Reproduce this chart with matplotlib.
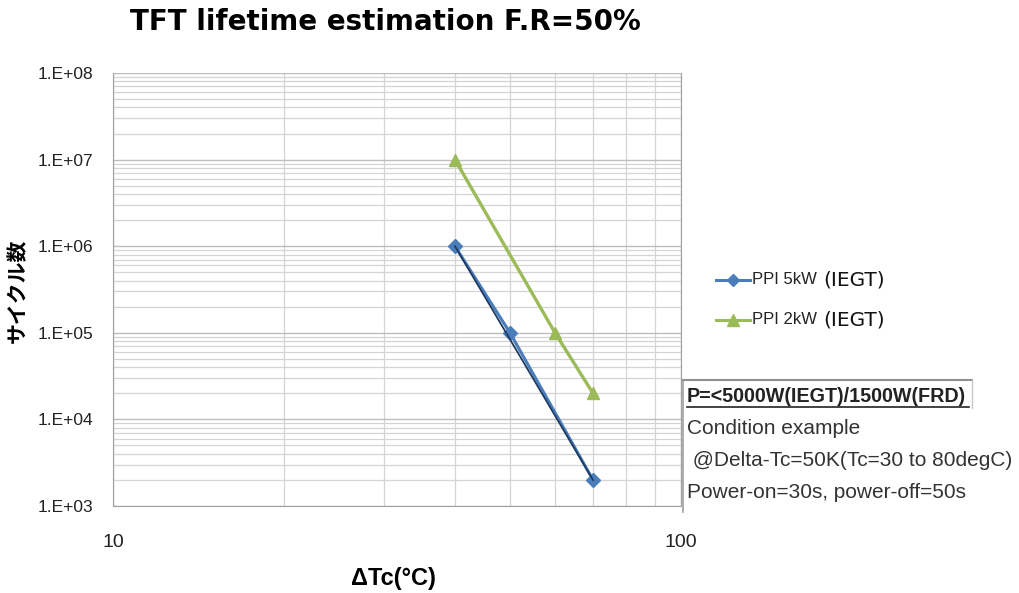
import matplotlib
matplotlib.use("Agg")
import matplotlib.pyplot as plt
from matplotlib.ticker import LogLocator, FixedLocator, NullFormatter, FixedFormatter
import numpy as np

plt.rcParams['font.family'] = ['Liberation Sans', 'Noto Sans CJK JP', 'DejaVu Sans']

x_5kw = [40, 50, 70]
y_5kw = [1e6, 1e5, 2e3]
x_2kw = [40, 60, 70]
y_2kw = [1e7, 1e5, 2e4]
label_5kw = "PPI 5kW"
label_2kw = "PPI 2kW"
y_ticks = [1e3, 1e4, 1e5, 1e6, 1e7, 1e8]
y_ticklabels = ["1.E+03", "1.E+04", "1.E+05", "1.E+06", "1.E+07", "1.E+08"]
x_ticks = [10, 100]
x_ticklabels = ["10", "100"]

fig = plt.figure(figsize=(10.19, 5.93), dpi=100)
ax = fig.add_axes([113/1019, 1-506/593, (681-113)/1019, (506-73)/593])
ax.set_xscale('log')
ax.set_yscale('log')
ax.set_xlim(10, 100)
ax.set_ylim(1e3, 1e8)

ax.yaxis.set_major_locator(FixedLocator(y_ticks))
ax.yaxis.set_major_formatter(FixedFormatter(y_ticklabels))
ax.yaxis.set_minor_locator(LogLocator(base=10, subs=np.arange(2, 10)))
ax.yaxis.set_minor_formatter(NullFormatter())
ax.xaxis.set_major_locator(FixedLocator(x_ticks))
ax.xaxis.set_major_formatter(FixedFormatter(x_ticklabels))
ax.xaxis.set_minor_locator(LogLocator(base=10, subs=np.arange(2, 10)))
ax.xaxis.set_minor_formatter(NullFormatter())

ax.grid(True, which='major', color='#bdbdbd', linewidth=1.0)
ax.grid(True, which='minor', color='#d4d4d4', linewidth=0.9)
ax.set_axisbelow(True)
ax.spines['top'].set_visible(False)
ax.spines['left'].set_color('#a0a0a0')
ax.spines['bottom'].set_color('#a0a0a0')
ax.spines['right'].set_color('#a0a0a0')
ax.tick_params(axis='both', which='both', length=0, colors='#222222')
ax.tick_params(axis='y', labelsize=12.5, pad=14)
ax.tick_params(axis='x', labelsize=14, pad=20)

l1, = ax.plot(x_5kw, y_5kw, color='#4a7ebb', linewidth=2.2, marker='D', markersize=7,
              markerfacecolor='#4a7ebb', markeredgecolor='#4a7ebb', zorder=3)
ax.plot([x_5kw[0], x_5kw[-1]], [y_5kw[0], y_5kw[-1]], color='#1f3b63', linewidth=1.3, zorder=4)
l2, = ax.plot(x_2kw, y_2kw, color='#9bbb59', linewidth=2.4, marker='^', markersize=9,
              markerfacecolor='#9bbb59', markeredgecolor='#9bbb59', zorder=3)

fig.text(385/1019, 1-22/593, "TFT lifetime estimation F.R=50%", ha='center', va='center',
         fontsize=20, fontweight='bold', family=['DejaVu Sans'])
fig.text(18/1019, 1-291/593, "サイクル数", ha='center', va='center', rotation=90,
         fontsize=15, fontweight='bold', family=['Noto Sans CJK JP'])
fig.text(393/1019, 1-578/593, "ΔTc(°C)", ha='center', va='center',
         fontsize=17, fontweight='bold', family=['Liberation Sans', 'DejaVu Sans'])

# legend
for yy, ln, lab in [(280, l1, label_5kw), (320, l2, label_2kw)]:
    fig.lines.append(plt.Line2D([716/1019, 750/1019], [1-yy/593, 1-yy/593], transform=fig.transFigure,
                                color=ln.get_color(), linewidth=2.2))
    fig.lines.append(plt.Line2D([733/1019], [1-yy/593], transform=fig.transFigure,
                                color=ln.get_color(), marker=ln.get_marker(),
                                markersize=6 if ln.get_marker() == 'D' else 8, linestyle='none'))
    fig.text(752/1019, 1-yy/593, lab, ha='left', va='center', fontsize=12, color='#222222')
    fig.text(823/1019, 1-yy/593, "(IEGT)", ha='left', va='center', fontsize=14.5, color='#111111',
             family=['DejaVu Sans'])

# annotation box
fig.lines.append(plt.Line2D([683/1019, 683/1019], [1-380/593, 1-512/593], transform=fig.transFigure,
                            color='#a0a0a0', linewidth=1.2))
fig.lines.append(plt.Line2D([683/1019, 972/1019], [1-380/593, 1-380/593], transform=fig.transFigure,
                            color='#909090', linewidth=1.5))
fig.lines.append(plt.Line2D([972/1019, 972/1019], [1-380/593, 1-408/593], transform=fig.transFigure,
                            color='#c8c8c8', linewidth=1.0))
fig.text(687/1019, 1-396/593, "P=<5000W(IEGT)/1500W(FRD)", ha='left', va='center', fontsize=14.2,
         fontweight='bold', color='#222222')
fig.lines.append(plt.Line2D([687/1019, 969/1019], [1-407/593, 1-407/593], transform=fig.transFigure,
                            color='#222222', linewidth=1.2))
fig.text(687/1019, 1-429/593, "Condition example", ha='left', va='center', fontsize=15, color='#333333')
fig.text(687/1019, 1-461/593, " @Delta-Tc=50K(Tc=30 to 80degC)", ha='left', va='center', fontsize=15,
         color='#333333')
fig.text(687/1019, 1-493/593, "Power-on=30s, power-off=50s", ha='left', va='center', fontsize=15,
         color='#333333')

fig.savefig("out.png", dpi=100, facecolor='white')
